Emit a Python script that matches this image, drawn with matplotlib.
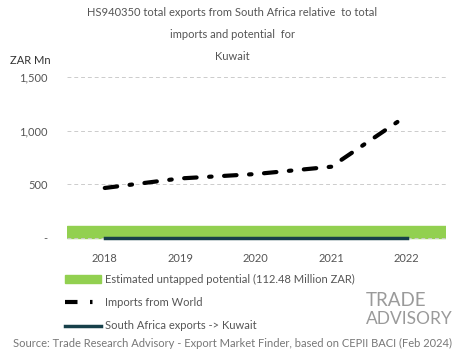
import matplotlib
matplotlib.use("Agg")
import matplotlib.pyplot as plt
from matplotlib.patches import Patch
from matplotlib.lines import Line2D

plt.rcParams['font.family'] = ['Lato', 'DejaVu Sans']

# Datos
years = [2018, 2019, 2020, 2021, 2022]
imports_world = [466, 555, 596, 664, 1140]
sa_exports = [0, 0, 0, 0, 0]
potential = 112.48
yticks = [0, 500, 1000, 1500]
ytick_labels = ["-", "500", "1,000", "1,500"]

grey = "#555555"
green = "#92d050"
dark = "#17404a"

fig = plt.figure(figsize=(4.65, 3.59), dpi=100)
ax = fig.add_axes([67/465, 1 - 245/359, (446-67)/465, (245-70)/359])

ax.axhspan(0, potential, color=green, zorder=1)
ax.plot(years, imports_world, color='black', lw=3, ls=(0, (3, 3, 0.6, 3)), zorder=3,
        dash_capstyle='round')
ax.plot(years, sa_exports, color=dark, lw=2.5, zorder=2)

ax.set_xlim(2017.5, 2022.52)
ax.set_ylim(-65, 1565)
ax.set_xticks(years)
ax.set_yticks(yticks)
ax.set_yticklabels(ytick_labels)
ax.tick_params(axis='both', length=0, colors=grey, labelsize=8)
ax.tick_params(axis='x', pad=6)
ax.tick_params(axis='y', pad=14)
ax.grid(axis='y', color='#cccccc', ls=(0, (4, 3)), lw=0.7)
for s in ax.spines.values():
    s.set_visible(False)

fig.text(0.5, 1 - 13/359, "HS940350 total exports from South Africa relative  to total",
         ha='center', va='center', fontsize=8, color=grey)
fig.text(0.5, 1 - 34/359, "imports and potential  for", ha='center', va='center', fontsize=8, color=grey)
fig.text(0.5, 1 - 57/359, "Kuwait", ha='center', va='center', fontsize=8, color=grey)
fig.text(10/465, 1 - 61/359, "ZAR Mn", ha='left', va='center', fontsize=8, color='#333333')

handles = [Patch(color=green),
           Line2D([0], [0], color='black', lw=3, ls=(0, (3, 3, 0.6, 3))),
           Line2D([0], [0], color=dark, lw=2.5)]
labels = ["Estimated untapped potential (112.48 Million ZAR)",
          "Imports from World",
          "South Africa exports -> Kuwait"]
leg = fig.legend(handles, labels, loc='upper left', bbox_to_anchor=(55/465, 1 - 264/359),
                 frameon=False, fontsize=8, handlelength=3.2, handletextpad=0.4,
                 labelspacing=1.1, labelcolor=grey)

fig.text(0.5, 1 - 343/359,
         "Source: Trade Research Advisory - Export Market Finder, based on CEPII BACI (Feb 2024)",
         ha='center', va='center', fontsize=8, color='#777777')

# logo
fig.text(366/465, 1 - 300/359, "TRADE", ha='left', va='center', fontsize=13.5,
         color='#9a9a9a')
fig.text(366/465, 1 - 319/359, "ADVISORY", ha='left', va='center', fontsize=12.5,
         color='#9a9a9a')

fig.savefig("out.png", dpi=100)
